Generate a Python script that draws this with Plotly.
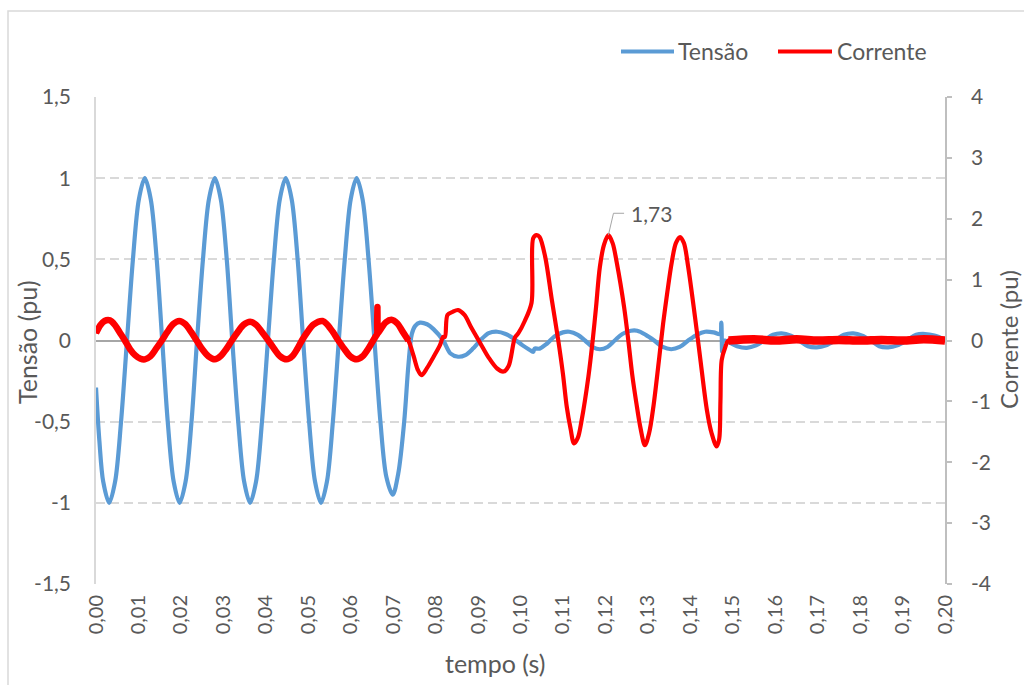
import plotly.graph_objects as go

# ---------------------------------------------------------------
# Waveforms (time in seconds)
# ---------------------------------------------------------------
t_tensao = [
    0.0000, 0.0008, 0.0017, 0.0031, 0.0045, 0.0059, 0.0073, 0.0087, 0.0101, 0.0115,
    0.0129, 0.0143, 0.0156, 0.0169, 0.0183, 0.0197, 0.0211, 0.0225, 0.0238, 0.0252,
    0.0266, 0.0280, 0.0294, 0.0308, 0.0321, 0.0335, 0.0349, 0.0363, 0.0377, 0.0391,
    0.0405, 0.0419, 0.0433, 0.0447, 0.0461, 0.0475, 0.0488, 0.0502, 0.0516, 0.0530,
    0.0544, 0.0558, 0.0572, 0.0586, 0.0600, 0.0614, 0.0628, 0.0642, 0.0656, 0.0670,
    0.0684, 0.0699, 0.0712, 0.0726, 0.0736, 0.0744, 0.0752, 0.0763, 0.0780, 0.0795,
    0.0818, 0.0835, 0.0853, 0.0870, 0.0888, 0.0905, 0.0925, 0.0945, 0.0965, 0.0985,
    0.1005, 0.1020, 0.1030, 0.1033, 0.1045, 0.1062, 0.1080, 0.1100, 0.1115, 0.1135,
    0.1152, 0.1170, 0.1187, 0.1205, 0.1222, 0.1240, 0.1260, 0.1275, 0.1295, 0.1315,
    0.1335, 0.1355, 0.1375, 0.1395, 0.1415, 0.1435, 0.1455, 0.1470, 0.1473, 0.1475,
    0.1477, 0.1490, 0.1510, 0.1533, 0.1555, 0.1574, 0.1595, 0.1615, 0.1637, 0.1656,
    0.1677, 0.1698, 0.1720, 0.1741, 0.1762, 0.1784, 0.1805, 0.1825, 0.1845, 0.1866,
    0.1888, 0.1910, 0.1932, 0.1953, 0.1975, 0.2000,
]
tensao = [
    -0.29, -0.62, -0.87, -1.00, -0.87, -0.50, 0.00, 0.50, 0.87, 1.00,
    0.87, 0.50, 0.00, -0.50, -0.87, -1.00, -0.87, -0.50, 0.00, 0.50,
    0.87, 1.00, 0.87, 0.50, 0.00, -0.50, -0.87, -1.00, -0.87, -0.50,
    0.00, 0.50, 0.87, 1.00, 0.87, 0.50, 0.00, -0.50, -0.87, -1.00,
    -0.87, -0.50, 0.00, 0.50, 0.87, 1.00, 0.87, 0.50, 0.00, -0.50,
    -0.84, -0.95, -0.82, -0.50, -0.15, 0.04, 0.09, 0.11, 0.10, 0.07,
    0.00, -0.08, -0.10, -0.09, -0.05, 0.00, 0.045, 0.054, 0.04, 0.01,
    -0.03, -0.055, -0.07, -0.05, -0.05, -0.02, 0.025, 0.05, 0.054, 0.035,
    0.00, -0.04, -0.054, -0.04, 0.00, 0.04, 0.06, 0.06, 0.035, 0.00,
    -0.04, -0.054, -0.04, 0.00, 0.035, 0.054, 0.05, 0.04, 0.11, -0.07,
    0.00, -0.01, -0.035, -0.045, -0.03, 0.00, 0.035, 0.044, 0.03, 0.00,
    -0.035, -0.042, -0.03, 0.00, 0.035, 0.044, 0.03, 0.00, -0.035, -0.042,
    -0.03, 0.00, 0.035, 0.04, 0.03, 0.005,
]

t_corrente = [
    0.0000, 0.0010, 0.0020, 0.0033, 0.0045, 0.0057, 0.0068, 0.0080, 0.0092, 0.0105,
    0.0115, 0.0128, 0.0142, 0.0155, 0.0168, 0.0182, 0.0196, 0.0210, 0.0224, 0.0237,
    0.0250, 0.0265, 0.0280, 0.0293, 0.0307, 0.0320, 0.0334, 0.0348, 0.0363, 0.0377,
    0.0391, 0.0406, 0.0420, 0.0434, 0.0449, 0.0462, 0.0474, 0.0485, 0.0498, 0.0512,
    0.0534, 0.0545, 0.0558, 0.0571, 0.0585, 0.0599, 0.0614, 0.0628, 0.0641, 0.0653,
    0.0660, 0.0662, 0.0663, 0.0664, 0.0670, 0.0683, 0.0696, 0.0710, 0.0722, 0.0736,
    0.0748, 0.0758, 0.0767, 0.0780, 0.0795, 0.0810, 0.0818, 0.0822, 0.0828, 0.0840,
    0.0853, 0.0868, 0.0885, 0.0905, 0.0925, 0.0945, 0.0960, 0.0972, 0.0987, 0.0995,
    0.1010, 0.1026, 0.1030, 0.1038, 0.1045, 0.1058, 0.1074, 0.1089, 0.1100, 0.1109,
    0.1118, 0.1126, 0.1135, 0.1144, 0.1160, 0.1170, 0.1178, 0.1187, 0.1197, 0.1207,
    0.1217, 0.1227, 0.1244, 0.1254, 0.1263, 0.1273, 0.1283, 0.1293, 0.1303, 0.1313,
    0.1327, 0.1336, 0.1346, 0.1356, 0.1366, 0.1376, 0.1385, 0.1395, 0.1411, 0.1423,
    0.1439, 0.1450, 0.1462, 0.1468, 0.1471, 0.1474, 0.1482, 0.1490, 0.1550, 0.1600,
    0.1650, 0.1700, 0.1750, 0.1800, 0.1850, 0.1900, 0.1950, 0.2000,
]
corrente = [
    0.12, 0.25, 0.32, 0.33, 0.25, 0.12, 0.00, -0.14, -0.24, -0.30,
    -0.31, -0.26, -0.13, 0.00, 0.14, 0.27, 0.32, 0.27, 0.14, 0.00,
    -0.14, -0.26, -0.31, -0.26, -0.14, 0.00, 0.14, 0.26, 0.31, 0.26,
    0.14, 0.00, -0.14, -0.26, -0.31, -0.26, -0.14, 0.00, 0.14, 0.26,
    0.32, 0.26, 0.14, 0.00, -0.14, -0.26, -0.31, -0.26, -0.14, 0.00,
    0.08, 0.10, 0.55, 0.12, 0.18, 0.30, 0.34, 0.28, 0.15, 0.00,
    -0.25, -0.48, -0.57, -0.45, -0.27, -0.08, 0.06, 0.06, 0.42, 0.47,
    0.50, 0.42, 0.20, -0.04, -0.28, -0.46, -0.51, -0.42, 0.05, 0.12,
    0.32, 0.62, 1.68, 1.73, 1.70, 1.38, 0.66, 0.00, -0.55, -1.09,
    -1.45, -1.69, -1.60, -1.31, -0.59, 0.00, 0.55, 1.21, 1.58, 1.73,
    1.60, 1.27, 0.55, 0.00, -0.55, -1.03, -1.45, -1.72, -1.52, -1.09,
    -0.27, 0.28, 0.80, 1.27, 1.60, 1.70, 1.60, 1.21, 0.39, -0.27,
    -1.14, -1.52, -1.74, -1.62, -1.00, -0.32, -0.12, 0.00, 0.02, 0.00,
    0.02, 0.00, 0.01, 0.00, 0.01, 0.00, 0.02, 0.00,
]

# highlighted current peak
pico_t = 0.1207
pico_i = 1.73

# axis ticks
x_tick_vals = [0.00, 0.01, 0.02, 0.03, 0.04, 0.05, 0.06, 0.07, 0.08, 0.09, 0.10,
               0.11, 0.12, 0.13, 0.14, 0.15, 0.16, 0.17, 0.18, 0.19, 0.20]
x_tick_text = ["0,00", "0,01", "0,02", "0,03", "0,04", "0,05", "0,06", "0,07",
               "0,08", "0,09", "0,10", "0,11", "0,12", "0,13", "0,14", "0,15",
               "0,16", "0,17", "0,18", "0,19", "0,20"]
y1_tick_vals = [1.5, 1.0, 0.5, 0.0, -0.5, -1.0, -1.5]
y1_tick_text = ["1,5", "1", "0,5", "0", "-0,5", "-1", "-1,5"]
y2_tick_vals = [4, 3, 2, 1, 0, -1, -2, -3, -4]
y2_tick_text = ["4", "3", "2", "1", "0", "-1", "-2", "-3", "-4"]

AZUL = "#5B9BD5"
VERMELHO = "#FF0000"
CINZA_TXT = "#595959"
FONTE = "Lato"

W, H = 1024, 685
M_L, M_R, M_T, M_B = 96, 79, 97, 101


def px_to_paper(px, py):
    """Convert a page pixel position into paper coordinates."""
    return ((px - M_L) / (W - M_L - M_R), (H - M_B - py) / (H - M_T - M_B))


fig = go.Figure()

fig.add_trace(go.Scatter(
    x=t_tensao, y=tensao, name="Tensão", mode="lines",
    line=dict(color=AZUL, width=4.2, shape="spline", smoothing=0.9),
    showlegend=False, hoverinfo="skip",
))

fig.add_trace(go.Scatter(
    x=t_corrente, y=corrente, name="Corrente", mode="lines", yaxis="y2",
    line=dict(color=VERMELHO, width=4.2, shape="spline", smoothing=0.9),
    showlegend=False, hoverinfo="skip",
))

# the noisy pre-fault and post-clearing stretches read as a thicker band
for lo, hi, w in [(0.0, 0.0736, 6.5), (0.1490, 0.2001, 8.5)]:
    seg = [(t, i) for t, i in zip(t_corrente, corrente) if lo <= t <= hi]
    fig.add_trace(go.Scatter(
        x=[s[0] for s in seg], y=[s[1] for s in seg], mode="lines", yaxis="y2",
        line=dict(color=VERMELHO, width=w, shape="spline", smoothing=0.9),
        showlegend=False, hoverinfo="skip",
    ))

shapes = []
annotations = []

# outer chart border
bx0, by1 = px_to_paper(8, 11)
bx1, by0 = px_to_paper(1040, 700)
shapes.append(dict(type="rect", xref="paper", yref="paper", x0=bx0, x1=bx1,
                   y0=by0, y1=by1, line=dict(color="#D9D9D9", width=1.5),
                   layer="below"))

# legend drawn as line samples + labels
for (x0, x1, xt, label, color) in [(621, 674, 678, "Tensão", AZUL),
                                   (778, 832, 837, "Corrente", VERMELHO)]:
    lx0, ly = px_to_paper(x0, 51.5)
    lx1, _ = px_to_paper(x1, 51.5)
    tx, ty = px_to_paper(xt - 2, 51.5)
    shapes.append(dict(type="line", xref="paper", yref="paper", x0=lx0, x1=lx1,
                       y0=ly, y1=ly, line=dict(color=color, width=4)))
    annotations.append(dict(xref="paper", yref="paper", x=tx, y=ty, text=label,
                            showarrow=False, xanchor="left", yanchor="middle",
                            font=dict(family=FONTE, size=23, color=CINZA_TXT)))

# axis titles
for (cx, cy, label, angle, size) in [(27, 342, "Tensão (pu)", -90, 25),
                                     (1008, 340, "Corrente (pu)", -90, 24),
                                     (495, 663, "tempo (s)", 0, 25)]:
    ax, ay = px_to_paper(cx, cy)
    annotations.append(dict(xref="paper", yref="paper", x=ax, y=ay, text=label,
                            showarrow=False, xanchor="center", yanchor="middle",
                            textangle=angle, borderpad=0,
                            font=dict(family=FONTE, size=size, color=CINZA_TXT)))

# data label for the current peak with its leader line
elbow_t, elbow_i = pico_t + 0.0012, pico_i + 0.36
end_t = pico_t + 0.0037
shapes.append(dict(type="path", xref="x", yref="y2",
                   path=f"M {pico_t},{pico_i} L {elbow_t},{elbow_i} L {end_t},{elbow_i}",
                   line=dict(color="#A6A6A6", width=1)))
annotations.append(dict(xref="x", yref="y2", x=pico_t + 0.0049, y=elbow_i,
                        text=f"{pico_i:.2f}".replace(".", ","), showarrow=False,
                        xanchor="left", yanchor="middle",
                        font=dict(family=FONTE, size=21, color=CINZA_TXT)))

x_tick_font = dict(family=FONTE, size=20, color=CINZA_TXT)
y_tick_font = dict(family=FONTE, size=21, color=CINZA_TXT)

fig.update_layout(
    width=W, height=H, autosize=False,
    margin=dict(l=M_L, r=M_R, t=M_T, b=M_B, pad=0),
    paper_bgcolor="white", plot_bgcolor="white",
    font=dict(family=FONTE, color=CINZA_TXT),
    showlegend=False,
    shapes=shapes, annotations=annotations,
    xaxis=dict(
        range=[0, 0.2], tickvals=x_tick_vals, ticktext=x_tick_text,
        tickangle=-90, tickfont=x_tick_font, showgrid=False, zeroline=False,
        showline=False, ticks="", ticklabelstandoff=6,
    ),
    yaxis=dict(
        range=[-1.5, 1.5], tickvals=y1_tick_vals, ticktext=y1_tick_text,
        tickfont=y_tick_font, showgrid=True, gridcolor="#D9D9D9", gridwidth=1.5,
        griddash="9px,5px", zeroline=True, zerolinecolor="#A6A6A6",
        zerolinewidth=1.5, showline=True, linecolor="#D9D9D9", linewidth=1.5,
        ticks="", ticklabelstandoff=19,
    ),
    yaxis2=dict(
        range=[-4, 4], tickvals=y2_tick_vals, ticktext=y2_tick_text,
        overlaying="y", side="right", anchor="x",
        tickfont=y_tick_font, showgrid=False, zeroline=False,
        showline=True, linecolor="#BFBFBF", linewidth=1.5,
        ticks="outside", ticklen=5, tickcolor="#BFBFBF", tickwidth=1.5,
        ticklabelstandoff=15,
    ),
)

fig.write_html("out.html")
